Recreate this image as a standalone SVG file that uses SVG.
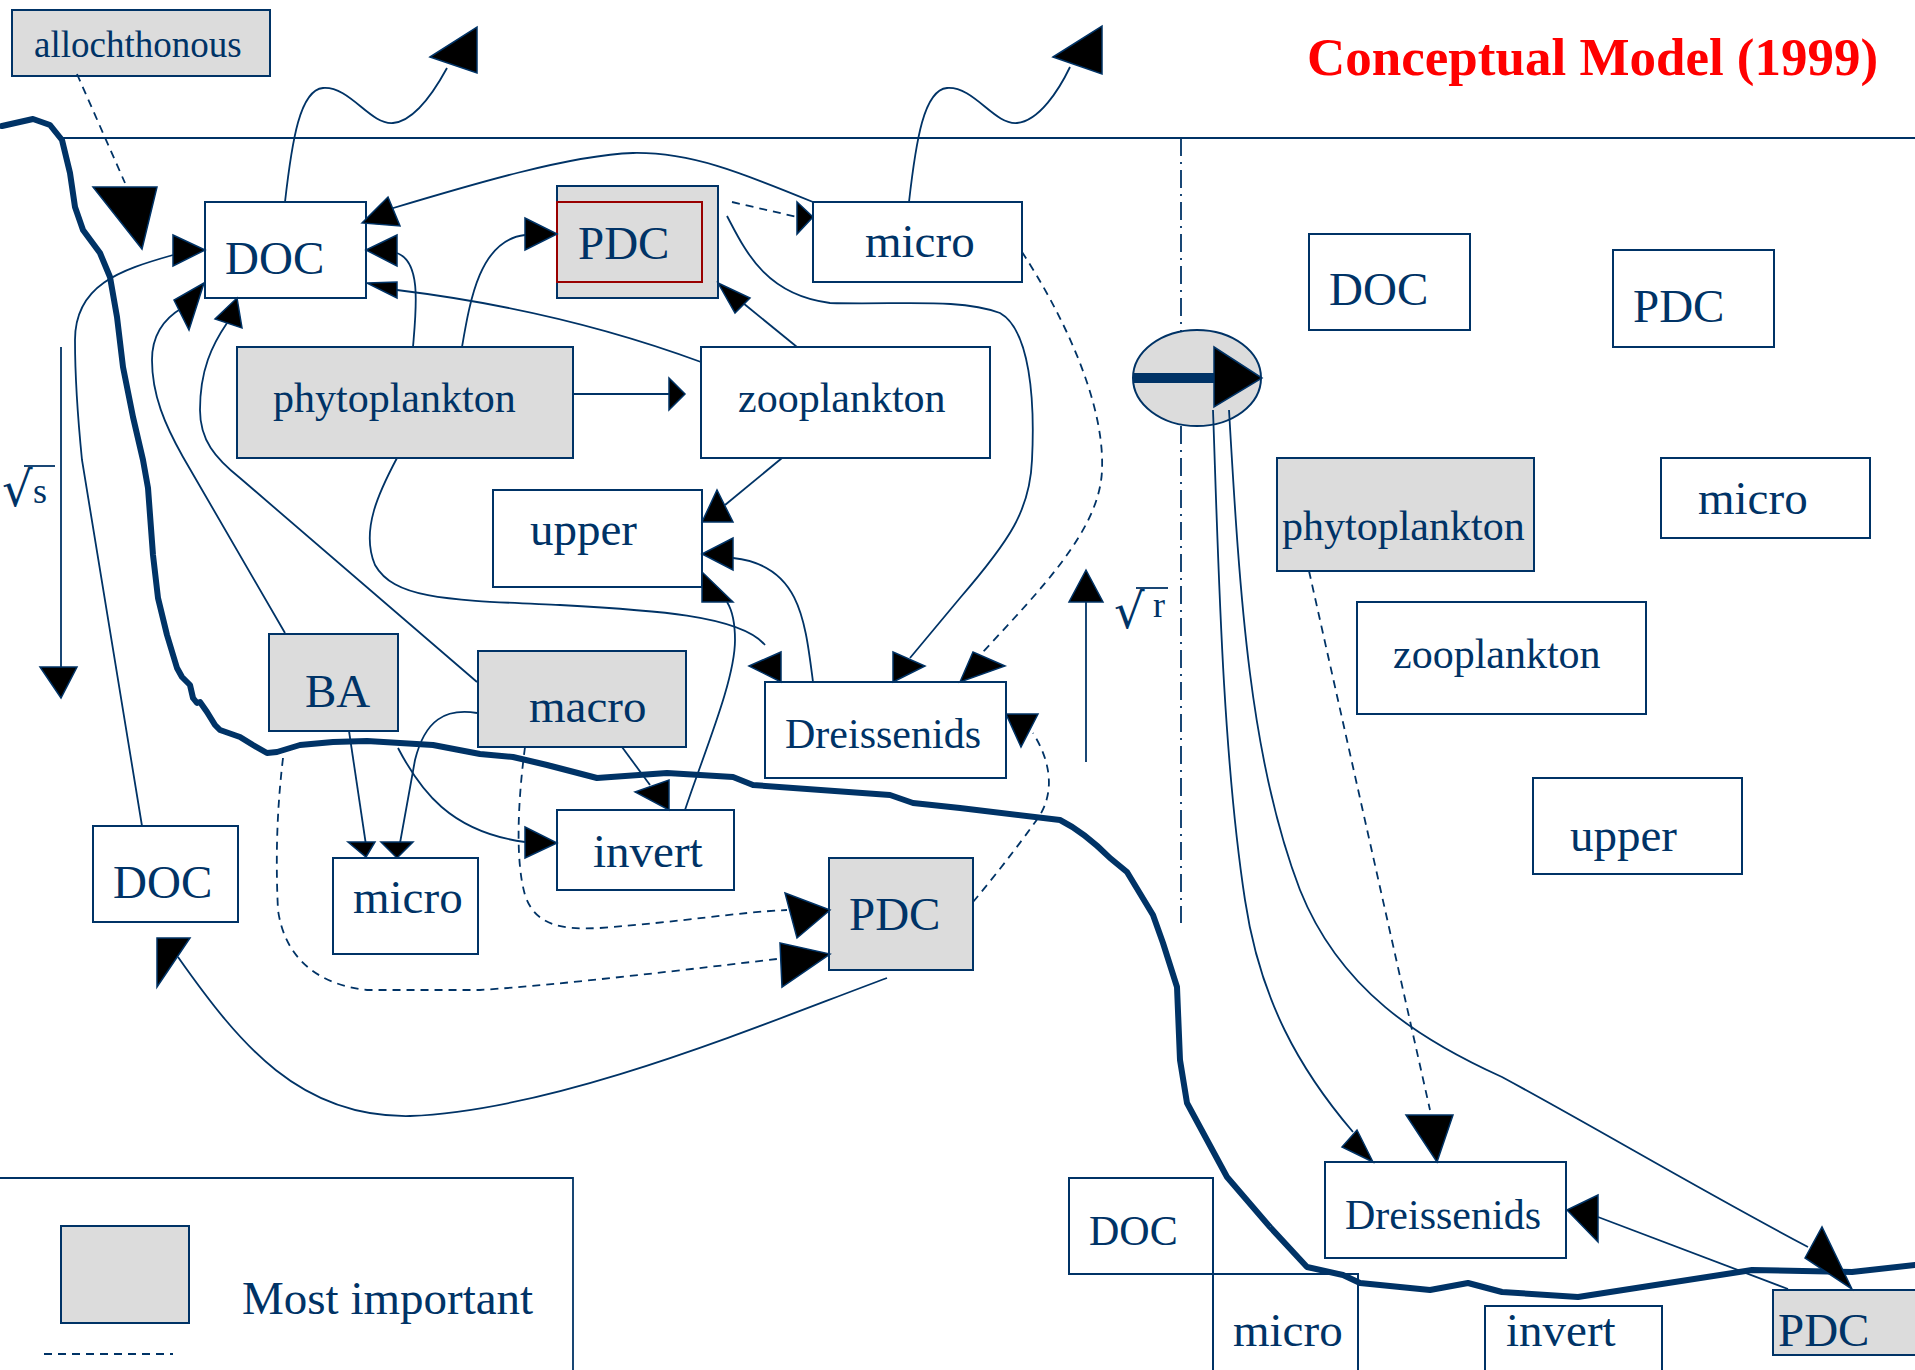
<svg xmlns="http://www.w3.org/2000/svg" width="1915" height="1370" viewBox="0 0 1915 1370">
<style>
.box{fill:#fff;stroke:#003366;stroke-width:2}
.imp{fill:#DCDCDC;stroke:#003366;stroke-width:2}
.t{font-family:"Liberation Serif","Times New Roman",serif;fill:#003366;font-size:47px}
.s{font-size:42px}
.c{fill:none;stroke:#003366;stroke-width:1.8}
.d{fill:none;stroke:#003366;stroke-width:1.8;stroke-dasharray:8 6}
.ah{fill:#000;stroke:#003366;stroke-width:1.5}
.thick{fill:none;stroke:#003366;stroke-width:6;stroke-linejoin:round;stroke-linecap:round}
.rad{font-family:"DejaVu Serif",serif;fill:#003366;font-size:48px}
</style>
<rect width="1915" height="1370" fill="#fff"/>
<text x="1307" y="75" font-family="Liberation Serif,serif" font-weight="bold" font-size="53" fill="#FF0000">Conceptual Model (1999)</text>
<g id="frame">
<path class="c" d="M63,138 L1915,138"/>
<path fill="none" stroke="#003366" stroke-width="1.8" stroke-dasharray="18 6 2 6" d="M1181,138 L1181,923"/>
<path class="c" d="M0,1178 L573,1178 L573,1370"/>
</g>
<g id="n-alloch"><rect class="imp" x="12" y="10" width="258" height="66"/><text class="t" x="34" y="57" style="font-size:37px">allochthonous</text></g>
<g id="n-doc1"><rect class="box" x="205" y="202" width="161" height="96"/><text class="t" x="225" y="274">DOC</text></g>
<g id="n-pdc1"><rect class="imp" x="557" y="186" width="161" height="112"/><rect x="557" y="202" width="145" height="80" fill="none" stroke="#990000" stroke-width="2"/><text class="t" x="578" y="259">PDC</text></g>
<g id="n-micro1"><rect class="box" x="813" y="202" width="209" height="80"/><text class="t" x="865" y="257">micro</text></g>
<g id="n-phyto1"><rect class="imp" x="237" y="347" width="336" height="111"/><text class="t s" x="273" y="412">phytoplankton</text></g>
<g id="n-zoo1"><rect class="box" x="701" y="347" width="289" height="111"/><text class="t s" x="738" y="412">zooplankton</text></g>
<g id="n-upper1"><rect class="box" x="493" y="490" width="209" height="97"/><text class="t" x="530" y="545">upper</text></g>
<g id="n-ba"><rect class="imp" x="269" y="634" width="129" height="97"/><text class="t" x="305" y="707">BA</text></g>
<g id="n-macro"><rect class="imp" x="478" y="651" width="208" height="96"/><text class="t" x="529" y="722">macro</text></g>
<g id="n-dreis1"><rect class="box" x="765" y="682" width="241" height="96"/><text class="t s" x="785" y="748">Dreissenids</text></g>
<g id="n-invert1"><rect class="box" x="557" y="810" width="177" height="80"/><text class="t" x="593" y="867">invert</text></g>
<g id="n-doc2"><rect class="box" x="93" y="826" width="145" height="96"/><text class="t" x="113" y="898">DOC</text></g>
<g id="n-micro2"><rect class="box" x="333" y="858" width="145" height="96"/><text class="t" x="353" y="913">micro</text></g>
<g id="n-pdc2"><rect class="imp" x="829" y="858" width="144" height="112"/><text class="t" x="849" y="930">PDC</text></g>
<g id="n-doc3"><rect class="box" x="1309" y="234" width="161" height="96"/><text class="t" x="1329" y="305">DOC</text></g>
<g id="n-pdc3"><rect class="box" x="1613" y="250" width="161" height="97"/><text class="t" x="1633" y="322">PDC</text></g>
<g id="n-phyto2"><rect class="imp" x="1277" y="458" width="257" height="113"/><text class="t s" x="1282" y="540">phytoplankton</text></g>
<g id="n-micro3"><rect class="box" x="1661" y="458" width="209" height="80"/><text class="t" x="1698" y="514">micro</text></g>
<g id="n-zoo2"><rect class="box" x="1357" y="602" width="289" height="112"/><text class="t s" x="1393" y="668">zooplankton</text></g>
<g id="n-upper2"><rect class="box" x="1533" y="778" width="209" height="96"/><text class="t" x="1570" y="851">upper</text></g>
<g id="n-dreis2"><rect class="box" x="1325" y="1162" width="241" height="96"/><text class="t s" x="1345" y="1229">Dreissenids</text></g>
<g id="n-doc4"><rect class="box" x="1069" y="1178" width="144" height="96"/><text class="t s" x="1089" y="1245">DOC</text></g>
<g id="n-micro4"><rect class="box" x="1213" y="1274" width="145" height="100"/><text class="t" x="1233" y="1346">micro</text></g>
<g id="n-invert2"><rect class="box" x="1485" y="1306" width="177" height="70"/><text class="t" x="1506" y="1346">invert</text></g>
<g id="n-pdc4"><rect class="imp" x="1773" y="1290" width="150" height="65"/><text class="t" x="1778" y="1346">PDC</text></g>
<g id="n-transfer"><ellipse class="imp" cx="1197" cy="378" rx="64" ry="48"/><path d="M1133,378 L1216,378" stroke="#003366" stroke-width="10"/><polygon class="ah" points="1214,347 1262,378 1214,407"/></g>
<g id="legend"><rect class="imp" x="61" y="1226" width="128" height="97"/><text class="t" x="242" y="1314">Most important</text><path class="d" d="M44,1354 L173,1354"/></g>
<g id="labels">
<text class="rad" x="2" y="506">√</text><path class="c" d="M24,466 L55,466"/><text class="t" x="33" y="503" style="font-size:36px">s</text>
<path class="c" d="M61,347 L61,667"/><polygon class="ah" points="40,667 77,667 61,698"/>
<text class="rad" x="1114" y="628">√</text><path class="c" d="M1136,588 L1168,588"/><text class="t" x="1153" y="617" style="font-size:36px">r</text>
<path class="c" d="M1086,762 L1086,602"/><polygon class="ah" points="1069,602 1103,602 1086,570"/>
</g>
<path id="boundary" class="thick" d="M2,126 L33,119 L50,125 L62,140 L70,173 L75,207 L83,230 L100,253 L110,277 L117,317 L123,367 L133,417 L143,460 L148,488 L153,555 L158,598 L167,635 L177,668 L182,677 L190,685 L193,698 L197,703 L200,702 L207,712 L215,725 L220,730 L240,737 L253,745 L267,753 L277,752 L300,745 L333,742 L367,741 L433,745 L480,754 L513,757 L547,765 L597,778 L667,773 L733,777 L753,785 L890,795 L913,803 L960,808 L1060,820 C1080,830 1100,848 1110,858 L1127,872 L1153,915 L1163,943 L1177,987 L1180,1060 L1187,1103 L1207,1140 L1227,1177 L1270,1227 L1307,1267 L1343,1275 L1360,1283 L1430,1290 L1468,1283 L1502,1292 L1578,1297 L1752,1270 L1852,1272 L1915,1265"/>
<g id="connectors">
<path class="d" d="M77,74 L125,183"/><polygon class="ah" points="93,187 157,187 142,249"/>
<path class="c" d="M285,202 C292,140 300,90 323,88 C350,86 370,125 393,123 C415,121 435,90 447,68"/><polygon class="ah" points="430,57 477,27 477,73"/>
<path class="c" d="M909,202 C916,140 924,90 947,88 C974,86 994,125 1017,123 C1039,121 1059,90 1070,67"/><polygon class="ah" points="1053,57 1102,26 1102,74"/>
<path class="c" d="M813,202 C740,172 690,152 633,153 C570,155 470,185 390,209"/><polygon class="ah" points="362,223 388,197 400,226"/>
<path class="c" d="M413,347 C416,310 422,262 397,253"/><polygon class="ah" points="366,250 397,235 397,266"/>
<path class="c" d="M701,362 Q560,310 397,290"/><polygon class="ah" points="367,283 397,282 397,298"/>
<path class="c" d="M142,826 L82,460 C78,420 75,380 75,340 C75,285 120,270 173,255"/><polygon class="ah" points="205,250 173,235 173,266"/>
<path class="c" d="M285,633 L183,457 C165,425 152,395 152,360 C152,335 165,318 182,308"/><polygon class="ah" points="204,283 174,300 189,330"/>
<path class="c" d="M477,682 L240,478 C215,458 200,440 200,410 C200,370 212,345 227,323"/><polygon class="ah" points="237,298 215,319 242,328"/>
<path class="c" d="M462,347 C470,300 480,240 525,235"/><polygon class="ah" points="557,234 525,218 525,250"/>
<path class="d" d="M732,202 L797,217"/><polygon class="ah" points="813,217 797,202 797,234"/>
<path class="c" d="M727,216 C745,250 765,295 830,303 C900,305 960,298 1000,313 C1030,330 1035,400 1032,460 C1030,510 1010,540 960,598 L910,658"/><polygon class="ah" points="893,652 925,666 893,682"/>
<path class="c" d="M797,347 L743,303"/><polygon class="ah" points="718,283 750,298 735,313"/>
<path class="c" d="M573,394 L670,394"/><polygon class="ah" points="669,378 685,394 669,410"/>
<path class="d" d="M1022,252 C1060,310 1105,400 1102,470 C1100,530 1040,590 983,652"/><polygon class="ah" points="960,682 973,652 1005,666"/>
<path class="c" d="M782,458 L725,505"/><polygon class="ah" points="702,522 717,490 733,522"/>
<path class="c" d="M813,682 C805,620 800,565 733,558"/><polygon class="ah" points="702,554 733,538 733,570"/>
<path class="c" d="M685,810 C705,750 735,680 735,640 C735,620 732,610 727,602"/><polygon class="ah" points="702,572 702,602 733,602"/>
<path class="c" d="M397,458 C380,490 360,530 375,565 C395,600 450,600 560,605 C650,610 740,615 765,645"/><polygon class="ah" points="749,666 781,652 781,682"/>
<path class="c" d="M349,731 L366,845"/><polygon class="ah" points="348,842 375,842 366,857"/>
<path class="c" d="M477,713 C445,708 425,720 415,760 L400,843"/><polygon class="ah" points="381,842 413,842 397,858"/>
<path class="c" d="M398,748 C420,790 450,832 525,842"/><polygon class="ah" points="525,827 557,843 525,858"/>
<path class="c" d="M622,747 L650,785"/><polygon class="ah" points="635,792 669,780 669,810"/>
<path class="d" d="M283,758 C278,800 275,850 278,910 C285,960 320,985 367,990 L480,990 C560,985 700,968 777,959"/><polygon class="ah" points="780,943 830,954 782,987"/>
<path class="d" d="M525,747 C518,800 515,860 525,895 C535,925 560,930 600,928 C680,922 740,912 787,910"/><polygon class="ah" points="785,893 830,910 797,938"/>
<path class="d" d="M973,902 C1000,870 1030,830 1040,815 C1055,790 1050,760 1033,733"/><polygon class="ah" points="1006,714 1038,714 1021,747"/>
<path class="c" d="M887,978 C760,1025 560,1110 410,1116 C300,1118 240,1045 178,957"/><polygon class="ah" points="157,938 190,938 157,987"/>
<path class="c" d="M1213,410 C1218,550 1222,750 1245,900 C1260,1000 1300,1070 1353,1132"/><polygon class="ah" points="1342,1147 1357,1130 1373,1162"/>
<path class="c" d="M1229,410 C1240,600 1250,760 1300,890 C1340,990 1420,1040 1502,1077 C1600,1130 1700,1190 1808,1247"/><polygon class="ah" points="1805,1258 1822,1227 1852,1289"/>
<path class="d" d="M1309,571 L1430,1110"/><polygon class="ah" points="1406,1115 1453,1115 1437,1162"/>
<path class="c" d="M1788,1289 L1598,1217"/><polygon class="ah" points="1567,1210 1598,1195 1598,1242"/>
</g>
</svg>
